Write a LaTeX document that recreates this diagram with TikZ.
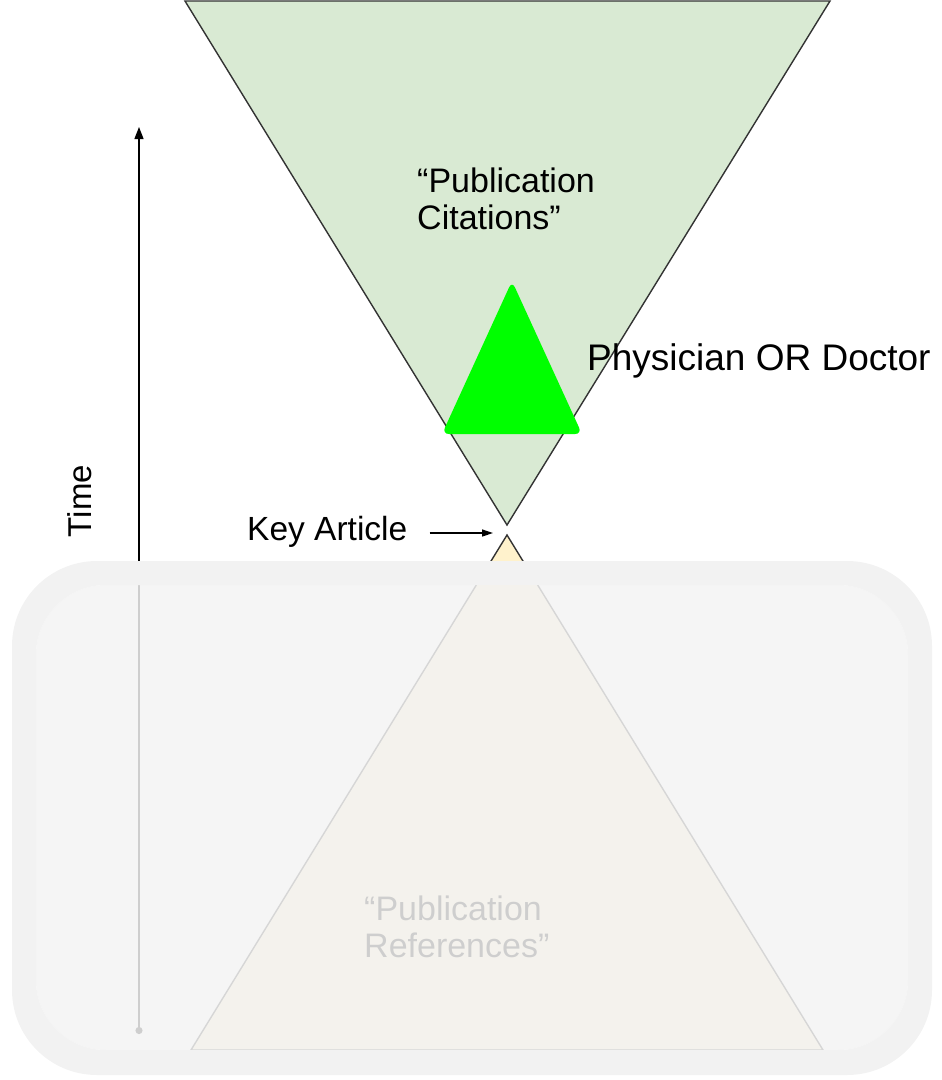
\documentclass[tikz,border=0pt]{standalone}
\usepackage{fontspec}
\setmainfont{Liberation Sans}
\usetikzlibrary{positioning,arrows.meta,calc}
\definecolor{citefill}{HTML}{D9EAD3}
\definecolor{reffill}{HTML}{FFF2CC}
\definecolor{edge}{HTML}{333333}
\definecolor{marker}{HTML}{00FF00}
\definecolor{veil}{HTML}{F2F2F2}
\definecolor{veilin}{HTML}{F3F3F3}

\begin{document}
\begin{tikzpicture}[
      x=1pt, y=-1pt,
      cone/.style={draw=edge, line width=1.4pt, line join=miter},
      txt/.style={inner sep=0pt, align=left, text=black},
      big/.style={txt, font=\fontsize{37}{40}\selectfont},
      mid/.style={txt, font=\fontsize{33.5}{36}\selectfont},
      quote/.style={txt, font=\fontsize{34}{37.5}\selectfont, anchor=west},
      flow/.style={line width=1.3pt, black},
      timeline/.style={flow, {Circle[length=7pt]}-{Triangle[length=12pt,width=9pt]}},
      pointer/.style={flow, -{Triangle[length=11pt,width=7pt]}}
    ]

    \useasboundingbox (0,0) rectangle (942,1080);

    % the two cones meeting at the key article
    \coordinate (citeL)  at (185,1);
    \coordinate (citeR)  at (830,1);
    \coordinate (citeA)  at (507,525);
    \coordinate (refA)   at (507,535);
    \coordinate (refL)   at (191,1050);
    \coordinate (refR)   at (823,1050);

    \filldraw[cone, fill=citefill] (citeL) -- (citeR) -- (citeA) -- cycle;
    \filldraw[cone, fill=reffill]  (refA) -- (refR) -- (refL) -- cycle;

    \node[quote] (cites) at (417,199) {``Publication\\Citations''};
    \node[quote] (refs)  at (364,927) {``Publication\\References''};

    % search filter marker
    \fill[marker, rounded corners=7pt] (512,281) -- (582,434) -- (442,434) -- cycle;
    \node[big, anchor=base west] (filter) at (587,370) {Physician OR Doctor};

    \node[mid, anchor=base west] (keyart) at (247,540) {Key Article};
    \coordinate (keytip) at (493,533);
    \draw[pointer] ([xshift=22pt]keyart.east |- keytip) -- (keytip);

    \coordinate (tbot) at (139,1034);
    \coordinate (ttop) at (139,127);
    \draw[timeline] (tbot) -- (ttop);
    \node[txt, font=\fontsize{33}{36}\selectfont, rotate=90] (time) at (80,501) {Time};

    % washed-out panel over the lower half
    \fill[veil, even odd rule]
      [rounded corners=85pt] (12,561) rectangle (932,1075)
      [rounded corners=70pt] (36,585) rectangle (908,1050);
    \fill[veilin, opacity=0.85, rounded corners=70pt] (36,585) rectangle (908,1050);

  \end{tikzpicture}
\end{document}
